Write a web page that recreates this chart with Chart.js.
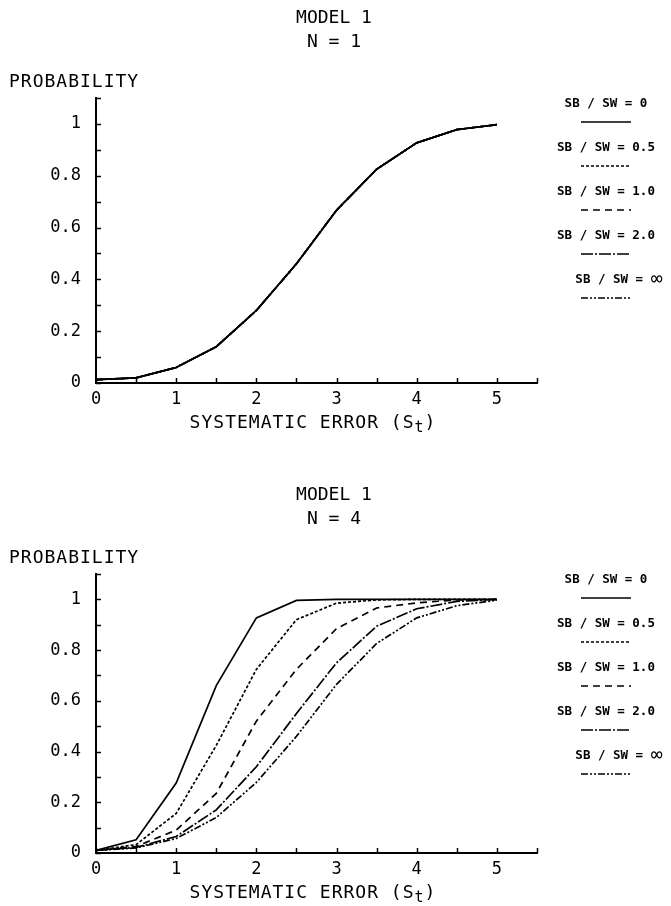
<!DOCTYPE html>
<html>
<head>
<meta charset="utf-8">
<script src="https://cdn.jsdelivr.net/npm/chart.js@4.4.1/dist/chart.umd.min.js"></script>
<style>
  body { margin: 0; background: #fff; }
  canvas { display: block; }
</style>
</head>
<body>
<canvas id="chartN1" width="671" height="453"></canvas>
<canvas id="chartN4" width="671" height="453"></canvas>
<script>
'use strict';
// ---------- data ----------
const xValues = [0, 0.5, 1, 1.5, 2, 2.5, 3, 3.5, 4, 4.5, 5];
const ratioLabels = ['SB / SW = 0', 'SB / SW = 0.5', 'SB / SW = 1.0', 'SB / SW = 2.0', 'SB / SW = \u221E'];

// N = 1: every ratio gives the same curve
const n1Prob = [0.013, 0.02, 0.06, 0.14, 0.28, 0.46, 0.667, 0.825, 0.927, 0.978, 0.997];

// N = 4
const n4Ratio0   = [0.01, 0.052, 0.276, 0.66, 0.927, 0.996, 1.0, 1.0, 1.0, 1.0, 1.0];
const n4Ratio05  = [0.01, 0.033, 0.156, 0.424, 0.724, 0.92, 0.985, 0.998, 1.0, 1.0, 1.0];
const n4Ratio10  = [0.01, 0.026, 0.09, 0.235, 0.52, 0.724, 0.885, 0.966, 0.986, 0.998, 1.0];
const n4Ratio20  = [0.01, 0.022, 0.065, 0.17, 0.34, 0.55, 0.75, 0.894, 0.963, 0.992, 1.0];
const n4RatioInf = [0.01, 0.02, 0.057, 0.14, 0.278, 0.46, 0.665, 0.826, 0.927, 0.975, 0.997];

// line style per ratio
const dashes = [[], [3, 2], [7, 5], [12, 2, 2, 2], [7, 2, 2, 2, 2, 2]];

const FONT = '"DejaVu Sans Mono", monospace';

function toPoints(ys) {
    return xValues.map((x, i) => ({ x, y: ys[i] }));
}

function buildDatasets(series) {
    return series.map((ys, i) => ({
        label: ratioLabels[i],
        data: toPoints(ys),
        borderColor: '#000',
        borderWidth: 1.7,
        borderDash: dashes[i],
        pointRadius: 0,
        tension: 0,
        fill: false,
    }));
}

// Titles, "PROBABILITY", x title with subscript, inward ticks, legend
const paperPlugin = {
    id: 'paper',
    afterDraw(chart, args, opts) {
        const { ctx, chartArea, scales } = chart;
        ctx.save();
        ctx.fillStyle = '#000';
        ctx.strokeStyle = '#000';

        // inward tick marks
        ctx.lineWidth = 1.5;
        ctx.beginPath();
        scales.y.ticks.forEach(t => {
            const py = Math.round(scales.y.getPixelForValue(t.value)) + 0.5;
            ctx.moveTo(chartArea.left, py);
            ctx.lineTo(chartArea.left + 5, py);
        });
        scales.x.ticks.forEach(t => {
            const px = Math.round(scales.x.getPixelForValue(t.value)) + 0.5;
            ctx.moveTo(px, chartArea.bottom);
            ctx.lineTo(px, chartArea.bottom - 5);
        });
        ctx.stroke();

        // two-line heading
        ctx.textAlign = 'center';
        ctx.textBaseline = 'middle';
        ctx.font = '18px ' + FONT;
        ctx.fillText('MODEL 1', 334, opts.headY);
        ctx.fillText(opts.nText, 334, opts.headY + 24);

        // y title sits above the axis, horizontal
        ctx.textAlign = 'left';
        ctx.letterSpacing = '1px';
        ctx.fillText('PROBABILITY', 9, chartArea.top - 16);

        // x title with subscript t
        const main = 'SYSTEMATIC ERROR (S';
        ctx.font = '18px ' + FONT;
        const wMain = ctx.measureText(main).width;
        ctx.font = '15px ' + FONT;
        const wSub = ctx.measureText('t').width;
        ctx.font = '18px ' + FONT;
        const wEnd = ctx.measureText(')').width;
        let x0 = 313 - (wMain + wSub + wEnd) / 2;
        const ty = chartArea.bottom + 40;
        ctx.fillText(main, x0, ty);
        x0 += wMain;
        ctx.font = '15px ' + FONT;
        ctx.fillText('t', x0, ty + 5);
        x0 += wSub;
        ctx.font = '18px ' + FONT;
        ctx.fillText(')', x0, ty);
        ctx.letterSpacing = '0px';

        // legend: label with a line sample underneath
        ctx.textAlign = 'center';
        chart.data.datasets.forEach((ds, i) => {
            const cx = i === 4 ? 619 : 606;
            const ly = chartArea.top + 6 + i * 44;
            ctx.font = 'bold 12.5px ' + FONT;
            if (i === 4) {
                const base = 'SB / SW = ';
                const wb = ctx.measureText(base).width;
                ctx.font = '20px ' + FONT;
                const wi = ctx.measureText('\u221E').width;
                ctx.textAlign = 'left';
                ctx.font = 'bold 12.5px ' + FONT;
                ctx.fillText(base, cx - (wb + wi) / 2, ly);
                ctx.font = '20px ' + FONT;
                ctx.fillText('\u221E', cx - (wb + wi) / 2 + wb, ly);
                ctx.textAlign = 'center';
            } else {
                ctx.fillText(ds.label, cx, ly);
            }
            ctx.beginPath();
            ctx.lineWidth = 1.7;
            ctx.setLineDash(ds.borderDash);
            ctx.moveTo(581, ly + 18);
            ctx.lineTo(631, ly + 18);
            ctx.stroke();
            ctx.setLineDash([]);
        });
        ctx.restore();
    },
};

function makeChart(canvasId, series, nText, topPad, xAxisHeight, headY) {
    return new Chart(document.getElementById(canvasId), {
        type: 'line',
        data: { datasets: buildDatasets(series) },
        options: {
            responsive: false,
            animation: false,
            layout: { padding: { top: topPad, right: 134, left: 0, bottom: 0 } },
            plugins: {
                legend: { display: false },
                tooltip: { enabled: false },
                paper: { nText, headY },
            },
            scales: {
                x: {
                    type: 'linear',
                    min: 0,
                    max: 5.5,
                    grid: { display: false },
                    border: { display: true, color: '#000', width: 2 },
                    ticks: {
                        stepSize: 0.5,
                        color: '#000',
                        padding: -2,
                        maxRotation: 0,
                        font: { family: FONT, size: 17 },
                        callback: v => Number.isInteger(v) && v <= 5 ? String(v) : '',
                    },
                    afterFit(scale) { scale.height = xAxisHeight; },
                },
                y: {
                    type: 'linear',
                    min: 0,
                    max: 1.1,
                    grid: { display: false },
                    border: { display: true, color: '#000', width: 2 },
                    ticks: {
                        stepSize: 0.1,
                        color: '#000',
                        padding: 7,
                        font: { family: FONT, size: 17 },
                        callback: v => {
                            const r = Math.round(v * 10);
                            return r % 2 === 0 && r <= 10 ? String(r / 10) : '';
                        },
                    },
                    afterFit(scale) { scale.width = 96; },
                },
            },
        },
        plugins: [paperPlugin],
    });
}

makeChart('chartN1', [n1Prob, n1Prob, n1Prob, n1Prob, n1Prob], 'N = 1', 98, 70, 18);
makeChart('chartN4', [n4Ratio0, n4Ratio05, n4Ratio10, n4Ratio20, n4RatioInf], 'N = 4', 121, 53, 42);
</script>
</body>
</html>
